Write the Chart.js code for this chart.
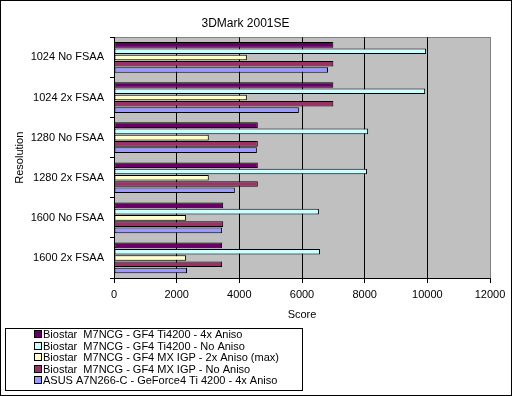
<!DOCTYPE html>
<html>
<head>
<meta charset="utf-8">
<script src="https://cdn.jsdelivr.net/npm/chart.js@4/dist/chart.umd.min.js"></script>
<style>
html,body{margin:0;padding:0;background:#fff;}
canvas{display:block;}
</style>
</head>
<body>
<canvas id="c" width="512" height="396"></canvas>
<script>
const categories = ["1024 No FSAA","1024 2x FSAA","1280 No FSAA","1280 2x FSAA","1600 No FSAA","1600 2x FSAA"];
const seriesNames = [
  "Biostar  M7NCG - GF4 Ti4200 - 4x Aniso",
  "Biostar  M7NCG - GF4 Ti4200 - No Aniso",
  "Biostar  M7NCG - GF4 MX IGP - 2x Aniso (max)",
  "Biostar  M7NCG - GF4 MX IGP - No Aniso",
  "ASUS A7N266-C - GeForce4 Ti 4200 - 4x Aniso"
];
const ti4200Aniso4x = [7000, 7000, 4590, 4590, 3485, 3450];
const ti4200NoAniso = [9960, 9930, 8110, 8075, 6540, 6575];
const mxIgpAniso2x  = [4240, 4240, 3025, 3025, 2300, 2300];
const mxIgpNoAniso  = [7000, 7000, 4590, 4590, 3485, 3450];
const asusAniso4x   = [6830, 5900, 4560, 3857, 3450, 2330];
const xTicks = [0, 2000, 4000, 6000, 8000, 10000, 12000];
const colors = ["#660066", "#CCFFFF", "#FFFFCC", "#993366", "#9999FF"];

const FONT = "'Liberation Sans', Arial, sans-serif";
const seriesValues = [ti4200Aniso4x, ti4200NoAniso, mxIgpAniso2x, mxIgpNoAniso, asusAniso4x];
const gridColors = xTicks.map((v, i) => i === xTicks.length - 1 ? '#808080' : '#000000');

const bgPlugin = {
  id: 'bg',
  beforeDraw(chart) {
    const {ctx, chartArea: a} = chart;
    ctx.save();
    ctx.fillStyle = '#C0C0C0';
    ctx.fillRect(a.left, a.top, a.right - a.left, a.bottom - a.top);
    ctx.strokeStyle = '#808080';
    ctx.lineWidth = 1;
    ctx.strokeRect(Math.round(a.left) + 0.5, Math.round(a.top) + 0.5, Math.round(a.right - a.left), Math.round(a.bottom - a.top));
    ctx.restore();
  },
  afterDraw(chart) {
    const ctx = chart.ctx;
    ctx.save();
    ctx.strokeStyle = '#000';
    ctx.lineWidth = 1;
    ctx.strokeRect(0.5, 0.5, 511, 395);
    const lx = 5, ly = 328, lw = 297, lh = 62;
    ctx.strokeRect(lx + 0.5, ly + 0.5, lw, lh);
    ctx.font = "11px " + FONT;
    ctx.textBaseline = 'middle';
    ctx.textAlign = 'left';
    chart.data.datasets.forEach((ds, i) => {
      const y = 334.5 + i * 11.5;
      ctx.fillStyle = ds.backgroundColor;
      ctx.fillRect(35, Math.round(y - 3.5), 6, 6);
      ctx.strokeStyle = '#000';
      ctx.strokeRect(34.5, Math.round(y - 3.5) - 0.5, 7, 7);
      ctx.fillStyle = '#000';
      ctx.fillText(ds.label, 43, y + 0.5);
    });
    ctx.restore();
  }
};

new Chart(document.getElementById('c'), {
  type: 'bar',
  data: {
    labels: categories,
    datasets: seriesNames.map((n, i) => ({
      label: n,
      data: seriesValues[i],
      backgroundColor: colors[i],
      borderColor: '#000',
      borderWidth: 1,
      borderSkipped: false,
      categoryPercentage: 0.78,
      barPercentage: 0.9
    }))
  },
  options: {
    indexAxis: 'y',
    responsive: false,
    animation: false,
    devicePixelRatio: 1,
    layout: { padding: { left: 1, right: 22, top: 0, bottom: 74 } },
    plugins: {
      legend: { display: false },
      tooltip: { enabled: false },
      title: {
        display: true,
        text: '3DMark 2001SE',
        color: '#000',
        font: { family: FONT, size: 12, weight: 'normal' },
        padding: { top: 16, bottom: 7 }
      }
    },
    scales: {
      x: {
        min: 0, max: 12000,
        afterBuildTicks(scale) { scale.ticks = xTicks.map(v => ({ value: v })); },
        afterFit(scale) { scale.height = 44; },
        grid: {
          display: true,
          drawOnChartArea: true,
          color: gridColors,
          tickColor: '#000',
          tickLength: 5,
          drawTicks: true,
          lineWidth: 1
        },
        border: { color: '#000' },
        ticks: { color: '#000', font: { family: FONT, size: 11 }, padding: 5, maxRotation: 0,
                 callback: (v) => String(v) },
        title: { display: true, text: 'Score', color: '#000', font: { family: FONT, size: 11 }, padding: { top: 7, bottom: 0 } }
      },
      y: {
        afterFit(scale) { scale.width = 113; },
        grid: { drawOnChartArea: false, drawTicks: true, tickLength: 4, color: '#000', tickColor: '#000', offset: true },
        border: { color: '#000' },
        ticks: { color: '#000', font: { family: FONT, size: 11 }, padding: 6 },
        title: { display: true, text: 'Resolution', color: '#000', font: { family: FONT, size: 11 }, padding: { top: 12, bottom: 0 } }
      }
    }
  },
  plugins: [bgPlugin]
});
</script>
</body>
</html>
